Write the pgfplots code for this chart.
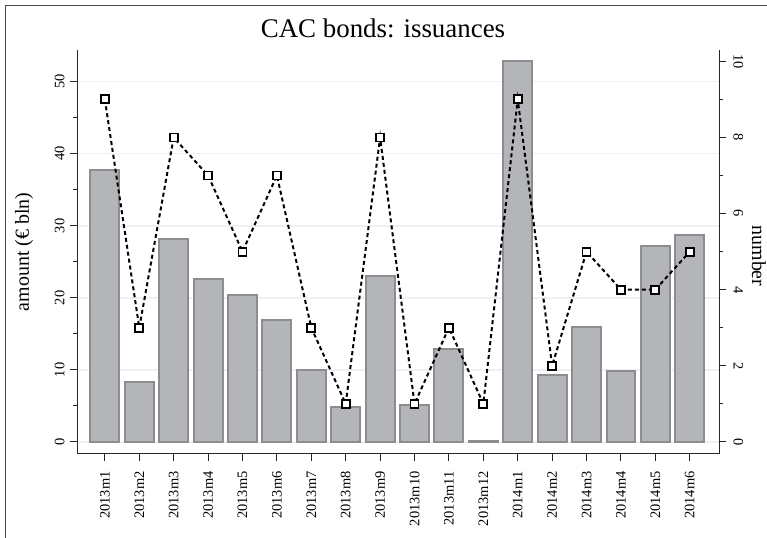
\documentclass[border=0pt]{standalone}
\usepackage{fontspec}
\setmainfont{Liberation Serif}
\usepackage{pgfplots}
\pgfplotsset{compat=1.18}
\definecolor{barfill}{RGB}{180,181,185}
\definecolor{barline}{RGB}{140,141,144}
\definecolor{gridc}{RGB}{238,240,242}
\begin{document}
\begin{tikzpicture}
\useasboundingbox (0bp,0bp) rectangle (767bp,538bp);
\draw[line width=1.5bp, black!70] (5.5bp,0bp) -- (5.5bp,532.5bp) -- (767bp,532.5bp);
\node[font=\fontsize{27}{30}\selectfont, anchor=base] at (383bp,500bp) {CAC bonds: issuances};
\begin{axis}[at={(77bp,84bp)}, anchor=south west, scale only axis, width=642bp, height=404bp,
  xmin=-0.81, xmax=17.85, ymin=-1.67, ymax=54.4,
  axis x line*=bottom, axis y line*=left,
  axis line style={line width=1bp, black!85},
  xtick={0,...,17},
  xticklabels={2013m1,2013m2,2013m3,2013m4,2013m5,2013m6,2013m7,2013m8,2013m9,2013m10,2013m11,2013m12,2014m1,2014m2,2014m3,2014m4,2014m5,2014m6},
  x tick label style={rotate=90, anchor=east, font=\fontsize{14.5}{16}\selectfont},
  xticklabel shift=7bp,
  ytick={0,10,...,50}, minor ytick={5,15,...,45},
  y tick label style={rotate=90, anchor=south, font=\fontsize{14.5}{16}\selectfont},
  yticklabel shift=2bp,
  /pgf/number format/assume math mode=true,
  ymajorgrids, major grid style={gridc, line width=1.5bp},
  tick align=outside, major tick length=7bp, minor tick length=4bp,
  tick style={black!85, line width=1bp},
  ylabel={amount (€ bln)},
  ylabel style={font=\fontsize{20}{24}\selectfont, at={(axis description cs:-0.0826,0.5)}, anchor=center},
]
\addplot[ybar, bar width=0.84, fill=barfill, draw=barline, line width=2bp] coordinates {
(0,37.8) (1,8.3) (2,28.2) (3,22.6) (4,20.4) (5,16.9) (6,10.0) (7,4.9) (8,23.1)
(9,5.1) (10,12.9) (11,0.15) (12,52.9) (13,9.3) (14,16.0) (15,9.9) (16,27.2) (17,28.7)};
\end{axis}
\begin{axis}[at={(77bp,84bp)}, anchor=south west, scale only axis, width=642bp, height=404bp,
  xmin=-0.81, xmax=17.85, ymin=-0.32, ymax=10.3,
  axis x line=none, axis y line*=right,
  axis line style={line width=1bp, black!85},
  ytick={0,2,...,10}, minor ytick={1,3,...,9},
  y tick label style={rotate=-90, anchor=south, font=\fontsize{14.5}{16}\selectfont},
  yticklabel shift=4bp,
  /pgf/number format/assume math mode=true,
  tick align=outside, major tick length=7bp, minor tick length=4bp,
  tick style={black!85, line width=1bp},
  ylabel={number},
  ylabel style={font=\fontsize{20}{24}\selectfont, rotate=180, at={(axis description cs:1.0623,0.49)}, anchor=center},
]
\addplot[black, line width=2bp, dash pattern=on 4bp off 3bp, mark=square*, mark size=4bp,
  mark options={fill=white, solid, line width=1.9bp}] coordinates {
(0,9) (1,3) (2,8) (3,7) (4,5) (5,7) (6,3) (7,1) (8,8) (9,1) (10,3) (11,1)
(12,9) (13,2) (14,5) (15,4) (16,4) (17,5)};
\end{axis}
\end{tikzpicture}
\end{document}
